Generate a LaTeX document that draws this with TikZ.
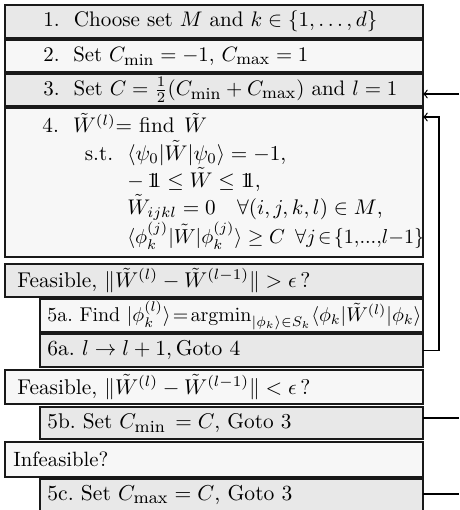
\documentclass[tikz,border=0pt]{standalone}
\usepackage{amsmath}
\usepackage{amssymb}
\usepackage{graphicx}
\usepackage{tikz}
\usepackage{xcolor}

\definecolor{boxgray}{gray}{0.91}
\definecolor{boxwhite}{gray}{0.97}
\newcommand{\pxl}{0.472pt}
\newlength{\pxlen}\setlength{\pxlen}{0.472pt}
\newcommand{\fitto}[2]{\resizebox{#1\pxlen}{!}{#2}}
\newcommand{\idop}{\mathrm{1\!\!1}}
\newcommand{\cmin}{C_{\mbox{\footnotesize min}}}
\newcommand{\cmax}{C_{\mbox{\footnotesize max}}}

\begin{document}
\begin{tikzpicture}[x=0.472pt,y=-0.472pt,
  stepbox/.style={draw=black!90,line width=1.1pt,anchor=north west,inner sep=0pt,outer sep=0pt,minimum width=418*\pxl},
  subbox/.style={stepbox,minimum width=383*\pxl},
  steptxt/.style={anchor=west,inner sep=0pt},
  link/.style={line width=0.6pt}]
\useasboundingbox (0,0) rectangle (459,510);
% main steps
\node[stepbox,fill=boxgray,minimum height=33*\pxl] (s1) at (5,5) {};
\node[stepbox,fill=boxwhite,minimum height=32*\pxl] (s2) at (5,40) {};
\node[stepbox,fill=boxgray,minimum height=32*\pxl] (s3) at (5,74) {};
\node[stepbox,fill=boxwhite,minimum height=149*\pxl] (s4) at (5,108) {};
\node[steptxt] at (43,21.5) {\fitto{334}{1.\ \ Choose set $M$ and $k\in\{1,\ldots,d\}$}};
\node[steptxt] at (43,56) {\fitto{265}{2.\ \ Set $\cmin=-1$, $\cmax=1$}};
\node[steptxt] at (43,90) {\fitto{354}{3.\ \ Set $C=\frac{1}{2}(\cmin+\cmax)$ and $l=1$}};
\node[anchor=north west,inner sep=0pt] at (42,113) {%
  \begin{tabular}{@{}l@{\ \ }l@{}}
  \multicolumn{2}{@{}l}{4.\ \ $\tilde{W}^{(l)}$= find\hspace{4.5pt}$\tilde{W}$}\\
  \hspace*{20pt}s.t. & $\langle\psi_0|\tilde{W}|\psi_0\rangle=-1$,\\
  & $-\,\idop\le\tilde{W}\le\idop$,\\
  & $\tilde{W}_{ijkl}=0\quad\forall(i,j,k,l)\in M$,\\
  & \fitto{297}{$\langle\phi_k^{(j)}|\tilde{W}|\phi_k^{(j)}\rangle\ge C\enskip\forall j\!\in\!\{1,\!...,\!l{-}1\}$}
  \end{tabular}};
% case: feasible, not converged
\node[stepbox,fill=boxgray,minimum height=33*\pxl] (f1) at (5,264) {};
\node[subbox,fill=boxwhite,minimum height=33*\pxl] (s5a) at (40,299) {};
\node[subbox,fill=boxgray,minimum height=33*\pxl] (s6a) at (40,334) {};
\node[steptxt] at (17,280.5) {\fitto{293}{Feasible, $\|\tilde{W}^{(l)}-\tilde{W}^{(l-1)}\|>\epsilon\,$?}};
\node[steptxt] at (47,315.5) {\fitto{374}{5a.~Find $|\phi_k^{(l)}\rangle\!=\!\mathrm{argmin}_{|\phi_k\rangle\in S_k}\langle\phi_k|\tilde{W}^{(l)}|\phi_k\rangle$}};
\node[steptxt] at (47,350.5) {\fitto{193}{6a.~$l\rightarrow l+1,\mathrm{Goto~4}$}};
% case: feasible, converged
\node[stepbox,fill=boxwhite,minimum height=34*\pxl] (f2) at (5,370) {};
\node[subbox,fill=boxgray,minimum height=32*\pxl] (s5b) at (40,407) {};
\node[steptxt] at (17,387) {\fitto{293}{Feasible, $\|\tilde{W}^{(l)}-\tilde{W}^{(l-1)}\|<\epsilon\,$?}};
\node[steptxt] at (47,423) {\fitto{244}{5b.~Set $\cmin\,=C$, Goto 3}};
% case: infeasible
\node[stepbox,fill=boxwhite,minimum height=35*\pxl] (f3) at (5,442) {};
\node[subbox,fill=boxgray,minimum height=35*\pxl] (s5c) at (40,479) {};
\node[steptxt] at (13,459.5) {\fitto{95}{Infeasible?}};
\node[steptxt] at (47,495) {\fitto{245}{5c.~Set $\cmax=C$, Goto 3}};
% connectors
\coordinate (in3) at (459,94);
\coordinate (loop) at (439,117);
\coordinate (out5b) at (459,418);
\coordinate (out5c) at (459,494);
\draw[link,->] (in3) -- (in3 -| s3.east);
\draw[link,->] (s6a.east) -| (loop) -- (loop -| s4.east);
\draw[link] (out5b -| s5b.east) -- (out5b);
\draw[link] (out5c -| s5c.east) -- (out5c);
\end{tikzpicture}
\end{document}
